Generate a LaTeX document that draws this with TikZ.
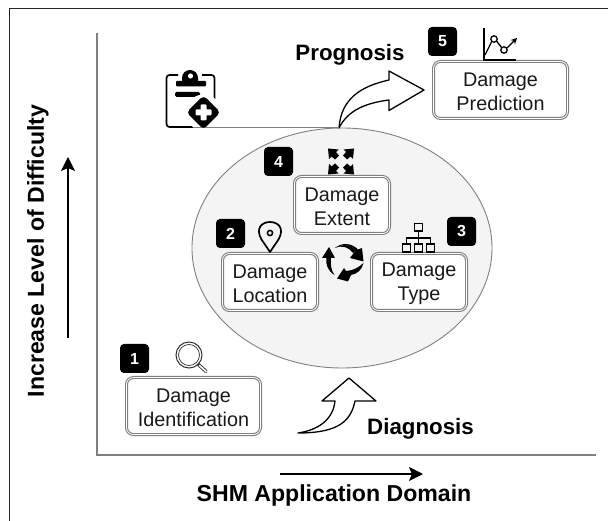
\documentclass[tikz,border=0pt]{standalone}
\usepackage{fontspec}
\setmainfont{Liberation Sans}
\usetikzlibrary{arrows.meta,calc,shapes.geometric}
\definecolor{axisgray}{HTML}{808080}
\definecolor{ellfill}{HTML}{F4F4F4}
\newcommand{\dmgtop}{\rule{0pt}{17pt}}
\tikzset{
  dmgbox/.style={draw=axisgray,double=white,double distance=0.8pt,line width=1.1pt,rounded corners=7pt,fill=white,inner sep=0pt,align=center,font=\fontsize{19.8}{24}\selectfont,text=black!90},
  badge/.style={fill=black,rounded corners=4pt,minimum size=29pt,inner sep=0pt,text=white,font=\fontsize{16}{16}\selectfont\bfseries},
  headline/.style={font=\fontsize{22.3}{26}\selectfont\bfseries,text=black},
  axistitle/.style={font=\fontsize{23.1}{26}\selectfont\bfseries,text=black},
  axisline/.style={draw=axisgray,line width=1.2pt},
  growarrow/.style={-{Stealth[length=14pt,width=14pt,inset=3pt]},line width=1.6pt},
  bigarrow/.style={draw=black,line width=1.3pt,fill=white,line join=round},
  iconline/.style={draw=black,line width=1.5pt},
}
\begin{document}
\begin{tikzpicture}[x=1pt,y=-1pt]
\useasboundingbox (0,0) rectangle (608,521);
\fill[white] (0,0) rectangle (608,521);
% image frame (top and left only)
\draw[line width=1pt,black!85] (9,521) -- (9,9) -- (608,9);
% axes
\coordinate (axT) at (97,33); \coordinate (axO) at (97,455); \coordinate (axR) at (596,455);
\draw[axisline] (axT) -- (axO) -- (axR);
% growth arrows
\coordinate (vA) at (68,338); \coordinate (vB) at (68,157);
\draw[growarrow] (vA) -- (vB);
\coordinate (hA) at (280,474); \coordinate (hB) at (423,474);
\draw[growarrow] (hA) -- (hB);
\node[axistitle,rotate=90] (ytitle) at (38,251) {Increase Level of Difficulty};
\node[axistitle] (xtitle) at (334,496) {SHM Application Domain};
% ellipse
\node[draw=axisgray,fill=ellfill,line width=0.9pt,ellipse,minimum width=300pt,minimum height=240pt,inner sep=0pt] (ell) at (342,248) {};
% boxes
\node[dmgbox,minimum width=95pt,minimum height=57pt] (ext) at (342,205) {\dmgtop Damage\\Extent};
\node[dmgbox,minimum width=95pt,minimum height=57pt] (loc) at (270,282) {\dmgtop Damage\\Location};
\node[dmgbox,minimum width=95pt,minimum height=57pt] (typ) at (419,282) {\dmgtop Damage\\Type};
\node[dmgbox,minimum width=134pt,minimum height=57pt] (pre) at (500.5,90) {\dmgtop Damage\\Prediction};
\node[dmgbox,minimum width=134pt,minimum height=57pt] (ide) at (193.5,406) {\dmgtop Damage\\Identification};
% badges
\node[badge] (b1) at (134.5,358.5) {1};
\node[badge] (b2) at (230.5,233.5) {2};
\node[badge] (b3) at (461.5,231.5) {3};
\node[badge] (b4) at (278.5,161.5) {4};
\node[badge] (b5) at (442.5,41.5) {5};
% headings
\node[headline] (prog) at (350,55) {Prognosis};
\node[headline] (diag) at (420.5,429) {Diagnosis};
% prognosis arrow
\draw[bigarrow] (339,128) .. controls (341,98) and (362,86) .. (389,80) -- (389,71) -- (424,90) -- (389,110.5) -- (389,100) .. controls (366,103) and (348,110) .. (339,128) -- cycle;
% diagnosis arrow
\draw[bigarrow] (298,433) .. controls (318,430) and (333,420) .. (335,401) -- (322,401) -- (349,378) -- (376,401) -- (355,401) .. controls (351,420) and (340,433) .. (298,433) -- cycle;
% clipboard icon
\draw[iconline,line width=1.7pt,rounded corners=3pt] (178,75) -- (166.5,75) -- (166.5,127) -- (195,127);
\draw[iconline,line width=1.7pt,rounded corners=3pt] (202,75) -- (214.5,75) -- (214.5,100);
\fill[black,rounded corners=1pt] (176,81) rectangle (206,86.5);
\fill[black] (182,82) -- (182,78) arc[start angle=180,end angle=360,radius=8] -- (198,82) -- cycle;
\fill[white] (190.5,76) circle[radius=2.6];
\fill[black,rounded corners=1.5pt] (175,92) rectangle (200,97);
\fill[white] (203.5,112.5) circle[radius=18];
\coordinate (cliplineA) at (193,128); \coordinate (cliplineB) at (339,128);
\draw[draw=axisgray,line width=1pt] (cliplineA) -- (cliplineB);
\fill[black,rounded corners=4pt] (203.5,95.5) -- (220.5,112.5) -- (203.5,129.5) -- (186.5,112.5) -- cycle;
\fill[white,rounded corners=1pt] (200.5,104.5) rectangle (206.5,120.5);
\fill[white,rounded corners=1pt] (195.5,109.5) rectangle (211.5,115.5);
% magnifier icon
\draw[draw=black!80,line width=1pt] (189,355) circle[radius=13];
\draw[draw=black!80,line width=0.7pt] (189,355) circle[radius=10.5];
\draw[draw=black!80,line width=3.4pt,line cap=round] (198.5,364.5) -- (206,371.5);
\draw[draw=white,line width=1.6pt,line cap=round] (199.5,365.5) -- (206,371.5);
% pin icon
\draw[iconline,line width=1.7pt,line join=round] (270,252) -- (261.5,239.5) .. controls (255,228) and (262,222) .. (270,222) .. controls (278,222) and (285,228) .. (278.5,239.5) -- cycle;
\draw[iconline,line width=1.5pt] (270,233) circle[radius=2.6];
% hierarchy icon
\draw[iconline,line width=1.9pt] (414.5,223.5) rectangle (422.5,231);
\draw[iconline,line width=1.9pt] (402.5,244) rectangle (410.5,252);
\draw[iconline,line width=1.9pt] (414.5,244) rectangle (422.5,252);
\draw[iconline,line width=1.9pt] (426.5,244) rectangle (434.5,252);
\draw[iconline,line width=1.6pt] (418.5,231) -- (418.5,244) (406.5,244) -- (406.5,238) -- (430.5,238) -- (430.5,244);
% cycle icon
\fill[black] (335,248) .. controls (344,243) and (351,245) .. (355.5,250.5) -- (350,258) -- (363.5,261.5) -- (362,248) -- (358,249.5) .. controls (352,243) and (342,242) .. (335,248) -- cycle;
\fill[black] (335,248) .. controls (342,245) and (349,247) .. (353,253) -- (355.5,250.5) .. controls (351,245) and (344,243) .. (335,248) -- cycle;
\fill[black] (363.5,263) .. controls (362,270) and (357,274) .. (351,275) -- (348,281.5) -- (337,278.5) -- (344,268) -- (346,271) .. controls (353,270.5) and (358,268) .. (363.5,263) -- cycle;
\fill[black] (334.5,275) .. controls (328,271) and (325.5,265) .. (326.5,258) -- (322,258) -- (329,247) -- (335,258) -- (331,258) .. controls (330.5,265) and (331,270) .. (334.5,275) -- cycle;
% expand icon
\foreach \sx/\sy in {1/1,1/-1,-1/1,-1/-1}{
  \fill[black,line join=round] ($(341,161.5)+(\sx*13,\sy*13)$) -- ($(341,161.5)+(\sx*2.5,\sy*12)$) -- ($(341,161.5)+(\sx*5,\sy*9.5)$) -- ($(341,161.5)+(\sx*2,\sy*6)$) -- ($(341,161.5)+(\sx*6,\sy*2)$) -- ($(341,161.5)+(\sx*9.5,\sy*5)$) -- ($(341,161.5)+(\sx*12,\sy*2.5)$) -- cycle;
}
% chart icon
\draw[iconline,line width=1.6pt] (484,28) -- (484,60) -- (516,60);
\draw[iconline,line width=1.3pt] (485,55) -- (491.5,42);
\draw[iconline,line width=1.3pt] (496.5,41) -- (501.5,47.5);
\draw[iconline,line width=1.3pt,-{Stealth[length=6pt,width=6pt]}] (507,48) -- (517,38);
\draw[iconline,line width=1.3pt] (494,39) circle[radius=3.2];
\draw[iconline,line width=1.3pt] (504,50) circle[radius=3.2];
\end{tikzpicture}
\end{document}
